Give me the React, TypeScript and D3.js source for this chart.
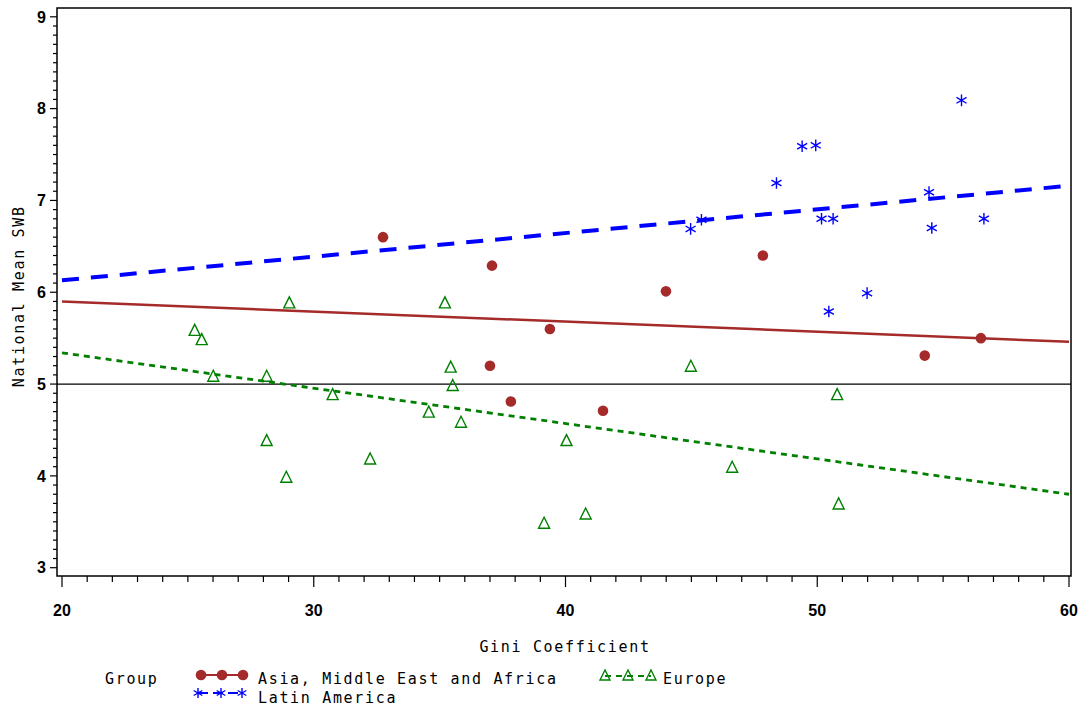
import React from "react";
import * as d3 from "d3";

// ---- data ----
const asiaGini = [32.75, 37.08, 37.0, 37.83, 39.38, 41.49, 43.99, 47.84, 54.27, 56.5];
const asiaSWB = [6.6, 6.29, 5.2, 4.81, 5.6, 4.71, 6.01, 6.4, 5.31, 5.5];

const latinGini = [55.73, 49.4, 49.94, 48.38, 54.44, 44.97, 45.4, 50.17, 50.63, 54.55, 56.62, 51.98, 50.46];
const latinSWB = [8.09, 7.59, 7.6, 7.19, 7.09, 6.69, 6.79, 6.8, 6.8, 6.7, 6.8, 5.99, 5.79];

const europeGini = [25.27, 25.55, 26.01, 28.13, 29.03, 28.13, 28.91, 30.75, 32.24, 34.57, 35.21, 35.44, 35.52, 35.85, 39.15, 40.04, 40.8, 44.98, 46.62, 50.79, 50.85];
const europeSWB = [5.59, 5.49, 5.09, 5.09, 5.89, 4.39, 3.99, 4.89, 4.19, 4.7, 5.89, 5.19, 4.99, 4.59, 3.49, 4.39, 3.59, 5.2, 4.1, 4.89, 3.7];

const fitGini = [20, 60];
const asiaFit = [5.9, 5.46];
const latinFit = [6.13, 7.16];
const europeFit = [5.34, 3.8];

const xTicks = [20, 30, 40, 50, 60];
const yTicks = [3, 4, 5, 6, 7, 8, 9];
const refSWB = 5;

const groupLabels = ["Asia, Middle East and Africa", "Europe", "Latin America"];

// ---- styles ----
const RED = "#a52a2a";
const BLUE = "#0000ff";
const GREEN = "#008000";
const MONO = "'DejaVu Sans Mono', monospace";
const TICKFONT = "'Liberation Sans', Arial, sans-serif";

const frame = { left: 57, right: 1071, top: 8, bottom: 576 };

const x = d3.scaleLinear().domain([20, 60]).range([62, 1069]);
const y = d3.scaleLinear().domain([3, 9]).range([567.7, 16.8]);

function Star({ cx, cy, r = 5.8 }: { cx: number; cy: number; r?: number }) {
  const a = r * Math.cos(Math.PI / 6);
  const b = r * Math.sin(Math.PI / 6);
  const d = `M${cx},${cy - r}L${cx},${cy + r}M${cx - a},${cy - b}L${cx + a},${cy + b}M${cx - a},${cy + b}L${cx + a},${cy - b}`;
  return <path d={d} stroke={BLUE} strokeWidth={1.4} fill="none" />;
}

function Tri({ cx, cy, r = 5.5 }: { cx: number; cy: number; r?: number }) {
  const d = `M${cx},${cy - r}L${cx + r},${cy + r}L${cx - r},${cy + r}Z`;
  return <path d={d} stroke={GREEN} strokeWidth={1.4} fill="none" />;
}

export default function App() {
  const line = (vals: number[]) =>
    d3.line<number>().x((_, i) => x(fitGini[i])).y((v) => y(v))(vals) || "";

  const xMinor = d3.range(20, 61, 1);
  const yMinor = d3.range(30, 91, 1).map((v) => v / 10);

  const textStyle = { fontFamily: MONO, fontSize: 15, letterSpacing: 1.67, fontWeight: 500 } as const;

  return (
    <svg
      width={1079}
      height={708}
      style={{ position: "absolute", left: 0, top: 0, background: "#fff" }}
    >
      <rect x={0} y={0} width={1079} height={708} fill="#fff" />
      {/* frame */}
      <rect
        x={frame.left}
        y={frame.top}
        width={frame.right - frame.left}
        height={frame.bottom - frame.top}
        fill="none"
        stroke="#000"
        strokeWidth={1.5}
      />
      {/* y ticks */}
      {yMinor.map((v) => {
        const major = Math.abs(v - Math.round(v)) < 1e-6;
        return (
          <line
            key={"ym" + v}
            x1={frame.left}
            x2={frame.left - (major ? 7 : 4)}
            y1={y(v)}
            y2={y(v)}
            stroke="#000"
            strokeWidth={1.2}
          />
        );
      })}
      {yTicks.map((v) => (
        <text
          key={"yl" + v}
          x={46}
          y={y(v)}
          dy="0.36em"
          textAnchor="end"
          fontFamily={TICKFONT}
          fontWeight="bold"
          fontSize={16}
        >
          {v}
        </text>
      ))}
      {/* x ticks */}
      {xMinor.map((v) => {
        const major = v % 10 === 0;
        return (
          <line
            key={"xm" + v}
            x1={x(v)}
            x2={x(v)}
            y1={frame.bottom}
            y2={frame.bottom + (major ? 11 : 6)}
            stroke="#000"
            strokeWidth={1.2}
          />
        );
      })}
      {xTicks.map((v) => (
        <text
          key={"xl" + v}
          x={x(v)}
          y={616}
          textAnchor="middle"
          fontFamily={TICKFONT}
          fontWeight="bold"
          fontSize={16}
        >
          {v}
        </text>
      ))}
      {/* axis titles */}
      <text x={565} y={652} textAnchor="middle" style={textStyle}>
        Gini Coefficient
      </text>
      <text
        transform={`translate(24,${y(6) + 4}) rotate(-90)`}
        textAnchor="middle"
        style={textStyle}
      >
        National Mean SWB
      </text>

      {/* reference line */}
      <line x1={frame.left} x2={frame.right} y1={y(refSWB)} y2={y(refSWB)} stroke="#000" strokeWidth={1.2} />

      {/* fit lines */}
      <path d={line(asiaFit)} stroke={RED} strokeWidth={2.5} fill="none" />
      <path d={line(latinFit)} stroke={BLUE} strokeWidth={4} strokeDasharray="17 12" fill="none" />
      <path d={line(europeFit)} stroke={GREEN} strokeWidth={2.8} strokeDasharray="6 5" fill="none" />

      {/* points */}
      {europeGini.map((g, i) => (
        <Tri key={"e" + i} cx={x(g)} cy={y(europeSWB[i])} />
      ))}
      {asiaGini.map((g, i) => (
        <circle key={"a" + i} cx={x(g)} cy={y(asiaSWB[i])} r={5.3} fill={RED} />
      ))}
      {latinGini.map((g, i) => (
        <Star key={"l" + i} cx={x(g)} cy={y(latinSWB[i])} />
      ))}

      {/* legend */}
      <text x={105} y={684} style={textStyle}>Group</text>
      <line x1={201} x2={243} y1={675} y2={675} stroke={RED} strokeWidth={2} />
      {[201, 222, 243].map((cx) => (
        <circle key={"lc" + cx} cx={cx} cy={675} r={5.3} fill={RED} />
      ))}
      <text x={258} y={684} style={textStyle}>{groupLabels[0]}</text>

      <line x1={605} x2={651} y1={676} y2={676} stroke={GREEN} strokeWidth={2} strokeDasharray="6 5" />
      {[605, 628, 651].map((cx) => (
        <Tri key={"lt" + cx} cx={cx} cy={675} r={5} />
      ))}
      <text x={663} y={684} style={textStyle}>{groupLabels[1]}</text>

      <line x1={198} x2={242} y1={693} y2={693} stroke={BLUE} strokeWidth={2} strokeDasharray="10 5" />
      {[198, 221, 242].map((cx) => (
        <Star key={"ls" + cx} cx={cx} cy={693} r={5} />
      ))}
      <text x={258} y={703} style={textStyle}>{groupLabels[2]}</text>
    </svg>
  );
}
